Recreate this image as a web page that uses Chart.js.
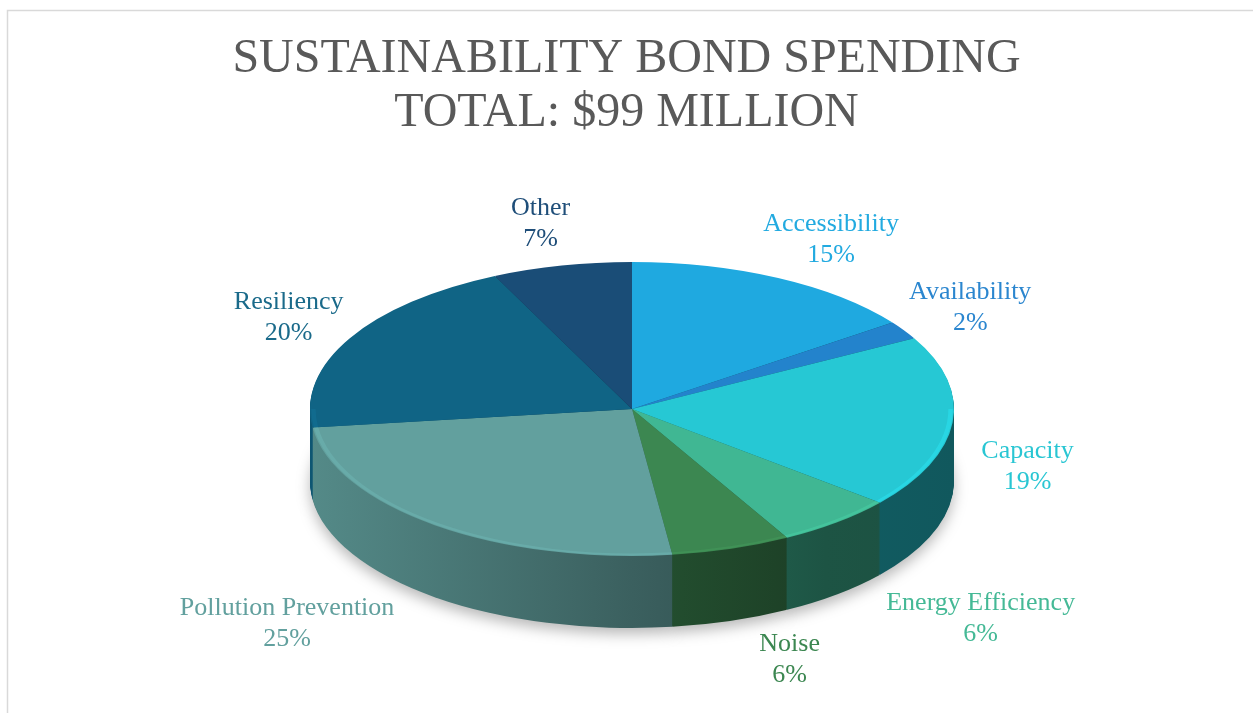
<!DOCTYPE html>
<html><head><meta charset="utf-8">
<script src="https://cdn.jsdelivr.net/npm/chart.js@4.4.1/dist/chart.umd.min.js"></script>
<style>html,body{margin:0;padding:0;background:#fff;overflow:hidden}canvas{display:block}</style>
</head><body>
<canvas id="c" width="1253" height="713"></canvas>
<script>
const categories = ['Accessibility','Availability','Capacity','Energy Efficiency','Noise','Pollution Prevention','Resiliency','Other'];
const shares = [15, 2, 19, 6, 6, 25, 20, 7];
const sliceColors = ['#1fa9e0','#2383cc','#26c8d4','#40b793','#3c8751','#62a09e','#106485','#1a4d77'];
const labelColors = ['#22aae0','#2b86cf','#29c6d3','#45b996','#3c8751','#62a09e','#1a6a8a','#1f4e79'];
const titleLines = ['SUSTAINABILITY BOND SPENDING', 'TOTAL: $99 MILLION'];

function shade(hex, f) {
  const n = parseInt(hex.slice(1), 16);
  const r = Math.round(((n >> 16) & 255) * f), g = Math.round(((n >> 8) & 255) * f), b = Math.round((n & 255) * f);
  return 'rgb(' + Math.min(255, r) + ',' + Math.min(255, g) + ',' + Math.min(255, b) + ')';
}

const frame = {
  id: 'frame',
  beforeDraw(chart) {
    const ctx = chart.ctx;
    ctx.save();
    ctx.strokeStyle = '#d9d9d9';
    ctx.lineWidth = 1.5;
    ctx.strokeRect(7.5, 10.5, 3000, 3000);
    ctx.restore();
  }
};

const pie3d = {
  id: 'pie3d',
  beforeDatasetsDraw(chart, args, o) {
    const arcs = chart.getDatasetMeta(0).data;
    const a0 = arcs[0];
    const x0 = a0.x, y0 = a0.y, R = a0.outerRadius;
    const sx = o.rx / R, sy = o.ry / R;
    const ctx = chart.ctx;
    ctx.save();
    ctx.translate(o.cx, o.cy);
    ctx.scale(sx, sy);
    ctx.translate(-x0, -y0);
    const grads = arcs.map((arc, i) => {
      const g = ctx.createLinearGradient(x0 - R, 0, x0 + R, 0);
      const c = sliceColors[i];
      g.addColorStop(0, shade(c, 0.86));
      g.addColorStop(0.5, shade(c, 0.6));
      g.addColorStop(0.8, shade(c, 0.46));
      g.addColorStop(1, shade(c, 0.44));
      return g;
    });
    for (let L = o.depth; L >= 1; L--) {
      const dy = L / sy;
      if (L === o.depth) {
        ctx.shadowColor = 'rgba(0,0,0,0.28)';
        ctx.shadowBlur = 14;
        ctx.shadowOffsetY = 6;
      } else {
        ctx.shadowColor = 'rgba(0,0,0,0)';
        ctx.shadowBlur = 0;
        ctx.shadowOffsetY = 0;
      }
      arcs.forEach((arc, i) => {
        ctx.fillStyle = grads[i];
        ctx.beginPath();
        ctx.moveTo(x0, y0 + dy);
        ctx.arc(x0, y0 + dy, R, arc.startAngle, arc.endAngle);
        ctx.closePath();
        ctx.fill();
      });
    }
    ctx.shadowColor = 'rgba(0,0,0,0)';
    ctx.shadowBlur = 0;
    ctx.shadowOffsetY = 0;
  },
  afterDatasetsDraw(chart, args, o) {
    const ctx = chart.ctx;
    const arcs = chart.getDatasetMeta(0).data;
    const R = arcs[0].outerRadius, x0 = arcs[0].x, y0 = arcs[0].y;
    // soft rim highlight on the front edge of the top face
    ctx.save();
    ctx.lineWidth = 2 / (o.ry / R);
    arcs.forEach((arc, i) => {
      const s = Math.max(arc.startAngle, 0), e = Math.min(arc.endAngle, Math.PI);
      if (e > s) {
        ctx.strokeStyle = shade(sliceColors[i], 1.2);
        ctx.globalAlpha = 0.35;
        ctx.beginPath();
        ctx.arc(x0, y0, R - 3, s, e);
        ctx.stroke();
      }
    });
    ctx.restore();
    ctx.restore();
    // labels
    const total = shares.reduce((a, b) => a + b, 0);
    ctx.save();
    ctx.font = o.labelFont;
    ctx.textAlign = 'center';
    ctx.textBaseline = 'middle';
    arcs.forEach((arc, i) => {
      const mid = (arc.startAngle + arc.endAngle) / 2;
      const c = Math.cos(mid), s = Math.sin(mid);
      const line1 = categories[i], line2 = Math.round(shares[i] / total * 100) + '%';
      const w = Math.max(ctx.measureText(line1).width, ctx.measureText(line2).width);
      const h = 2 * o.lineH - 6;
      const gap = s > 0 ? 15 + 150 * s : 5 + 80 * (1 - Math.abs(c));
      const ax = o.cx + (o.rx + gap) * c;
      const ay = o.cy + (o.ry + 15) * s + (s > 0 ? o.depth * (0.5 + 0.5 * s) : 0);
      const tx = ax + c * w / 2;
      const ty = ay + s * h / 2;
      ctx.fillStyle = labelColors[i];
      ctx.fillText(line1, tx, ty - o.lineH / 2);
      ctx.fillText(line2, tx, ty + o.lineH / 2);
    });
    ctx.restore();
  }
};

new Chart(document.getElementById('c'), {
  type: 'pie',
  data: {
    labels: categories,
    datasets: [{ data: shares, backgroundColor: sliceColors, borderWidth: 0, hoverOffset: 0 }]
  },
  options: {
    responsive: false,
    devicePixelRatio: 1,
    animation: false,
    events: [],
    layout: { padding: 0 },
    plugins: {
      legend: { display: false },
      tooltip: { enabled: false },
      title: {
        display: true,
        text: titleLines,
        color: '#595959',
        font: { family: "'Liberation Serif', 'Times New Roman', serif", size: 48, weight: 'normal', lineHeight: 1.12 },
        padding: { top: 33, bottom: 10 }
      },
      pie3d: { cx: 632, cy: 409, rx: 322, ry: 147, depth: 72, lineH: 31, labelFont: "26px 'Liberation Serif', 'Times New Roman', serif" }
    }
  },
  plugins: [frame, pie3d]
});
</script>
</body></html>
